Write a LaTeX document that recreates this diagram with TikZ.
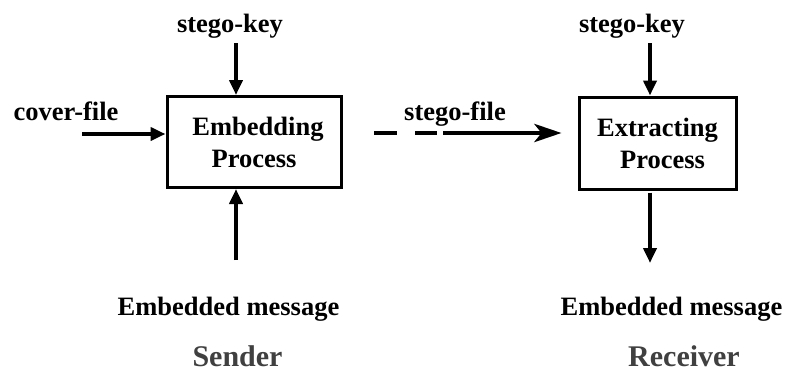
\documentclass[tikz,border=0pt]{standalone}
\usepackage{fontspec}
\setmainfont{Liberation Serif}
\usetikzlibrary{arrows.meta}
\begin{document}
\begin{tikzpicture}[x=1pt,y=-1pt,
  lbl/.style={font=\fontsize{26.5}{32}\selectfont\bfseries, inner sep=0pt, anchor=base},
  role/.style={font=\fontsize{30}{34}\selectfont\bfseries, text=black!75, inner sep=0pt, anchor=base},
  procbox/.style={draw, line width=3pt, minimum width=174pt, minimum height=91pt, align=center,
    font=\fontsize{26.5}{32}\selectfont\bfseries, inner sep=0pt},
  arr/.style={line width=4pt, -{Triangle[length=15pt,width=13pt]}},
  bigarr/.style={line width=4.5pt, -{Stealth[length=27pt,width=18pt,inset=7pt]}}
]
\useasboundingbox (0,0) rectangle (787,372);
% boxes
\node[procbox] (emb) at (254,142) {\hspace*{8pt}Embedding\\Process};
\node[procbox, minimum width=157pt, minimum height=92pt] (ext) at (657.5,143) {Extracting\\\hspace*{10pt}Process};
% labels
\node[lbl] (keyL) at (230,32) {stego-key};
\node[lbl] (cover) at (66,120) {cover-file};
\node[lbl] (msgL) at (228.5,315) {Embedded message};
\node[role] (sender) at (237.5,366) {Sender};
\node[lbl] (sfile) at (455,120) {stego-file};
\node[lbl] (keyR) at (632,32) {stego-key};
\node[lbl] (msgR) at (671.5,315) {Embedded message};
\node[role] (recv) at (684,366) {Receiver};
% coordinates for free ends
\coordinate (keyLs) at (236,43);
\coordinate (coverS) at (82,134);
\coordinate (msgLs) at (236,260);
\coordinate (sfileS) at (374,133);
\coordinate (keyRs) at (650,43);
\coordinate (msgRe) at (650,263);
% connectors
\draw[arr] (keyLs) -- (keyLs |- emb.north);
\draw[arr] (coverS) -- (coverS -| emb.west);
\draw[arr] (msgLs) -- (msgLs |- emb.south);
\draw[bigarr, dash pattern=on 23pt off 18pt on 22pt off 6pt on 300pt, shorten >=16pt] (sfileS) -- (sfileS -| ext.west);
\draw[arr] (keyRs) -- (keyRs |- ext.north);
\draw[arr] (keyRs |- ext.south) ++(0,2) -- (msgRe);
\end{tikzpicture}
\end{document}
